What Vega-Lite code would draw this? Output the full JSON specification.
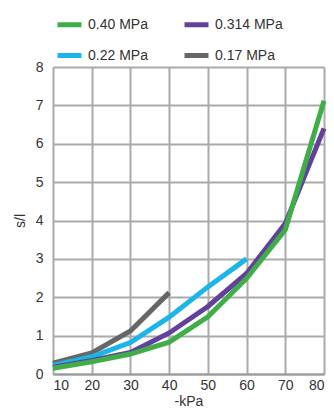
{
  "$schema": "https://vega.github.io/schema/vega-lite/v6.json",
  "width": 271,
  "height": 307,
  "autosize": {"type": "none"},
  "padding": {"left": 53, "top": 67, "right": 10, "bottom": 38},
  "data": {
    "values": [
      {"kpa": 10, "sl": 0.28, "series": "0.17 MPa"},
      {"kpa": 20, "sl": 0.55, "series": "0.17 MPa"},
      {"kpa": 30, "sl": 1.12, "series": "0.17 MPa"},
      {"kpa": 40, "sl": 2.12, "series": "0.17 MPa"},
      {"kpa": 10, "sl": 0.22, "series": "0.22 MPa"},
      {"kpa": 20, "sl": 0.45, "series": "0.22 MPa"},
      {"kpa": 30, "sl": 0.82, "series": "0.22 MPa"},
      {"kpa": 40, "sl": 1.48, "series": "0.22 MPa"},
      {"kpa": 50, "sl": 2.27, "series": "0.22 MPa"},
      {"kpa": 60, "sl": 3.0, "series": "0.22 MPa"},
      {"kpa": 10, "sl": 0.18, "series": "0.314 MPa"},
      {"kpa": 20, "sl": 0.35, "series": "0.314 MPa"},
      {"kpa": 30, "sl": 0.56, "series": "0.314 MPa"},
      {"kpa": 40, "sl": 1.07, "series": "0.314 MPa"},
      {"kpa": 50, "sl": 1.76, "series": "0.314 MPa"},
      {"kpa": 60, "sl": 2.62, "series": "0.314 MPa"},
      {"kpa": 70, "sl": 3.92, "series": "0.314 MPa"},
      {"kpa": 80, "sl": 6.4, "series": "0.314 MPa"},
      {"kpa": 10, "sl": 0.15, "series": "0.40 MPa"},
      {"kpa": 20, "sl": 0.32, "series": "0.40 MPa"},
      {"kpa": 30, "sl": 0.52, "series": "0.40 MPa"},
      {"kpa": 40, "sl": 0.83, "series": "0.40 MPa"},
      {"kpa": 50, "sl": 1.49, "series": "0.40 MPa"},
      {"kpa": 60, "sl": 2.49, "series": "0.40 MPa"},
      {"kpa": 70, "sl": 3.76, "series": "0.40 MPa"},
      {"kpa": 80, "sl": 7.12, "series": "0.40 MPa"}
    ]
  },
  "mark": {"type": "line", "strokeWidth": 5},
  "encoding": {
    "x": {
      "field": "kpa",
      "type": "quantitative",
      "scale": {"domain": [10, 80], "nice": false, "zero": false},
      "axis": {
        "values": [10, 20, 30, 40, 50, 60, 70, 80],
        "title": "-kPa",
        "labelFont": "Liberation Sans",
        "titleFont": "Liberation Sans",
        "labelFontSize": 14,
        "titleFontSize": 14,
        "labelColor": "#333333",
        "titleColor": "#333333",
        "titleFontWeight": "normal",
        "labelPadding": 4,
        "titlePadding": 2,
        "ticks": false,
        "grid": true,
        "gridColor": "#aaaaaa",
        "gridWidth": 2,
        "labelOverlap": false,
        "domain": true,
        "domainColor": "#9a9a9a",
        "domainWidth": 2
      }
    },
    "y": {
      "field": "sl",
      "type": "quantitative",
      "scale": {"domain": [0, 8], "nice": false},
      "axis": {
        "values": [0, 1, 2, 3, 4, 5, 6, 7, 8],
        "title": "s/l",
        "labelFont": "Liberation Sans",
        "titleFont": "Liberation Sans",
        "labelFontSize": 14,
        "titleFontSize": 14,
        "labelColor": "#333333",
        "titleColor": "#333333",
        "titleFontWeight": "normal",
        "labelPadding": 10,
        "titlePadding": 8,
        "ticks": false,
        "domain": false,
        "grid": true,
        "gridColor": "#aaaaaa",
        "gridWidth": 2,
        "labelOverlap": false
      }
    },
    "color": {
      "field": "series",
      "type": "nominal",
      "scale": {
        "domain": ["0.40 MPa", "0.314 MPa", "0.22 MPa", "0.17 MPa"],
        "range": ["#3fae49", "#62419a", "#1bb5ea", "#666666"]
      },
      "legend": {
        "title": null,
        "orient": "none",
        "direction": "horizontal",
        "legendX": 2,
        "legendY": -57,
        "columns": 2,
        "columnPadding": 26,
        "rowPadding": 6,
        "symbolType": "stroke",
        "symbolSize": 576,
        "symbolStrokeWidth": 5,
        "labelOffset": 4,
        "labelFont": "Liberation Sans",
        "labelFontSize": 14,
        "labelColor": "#333333"
      }
    }
  }
}
